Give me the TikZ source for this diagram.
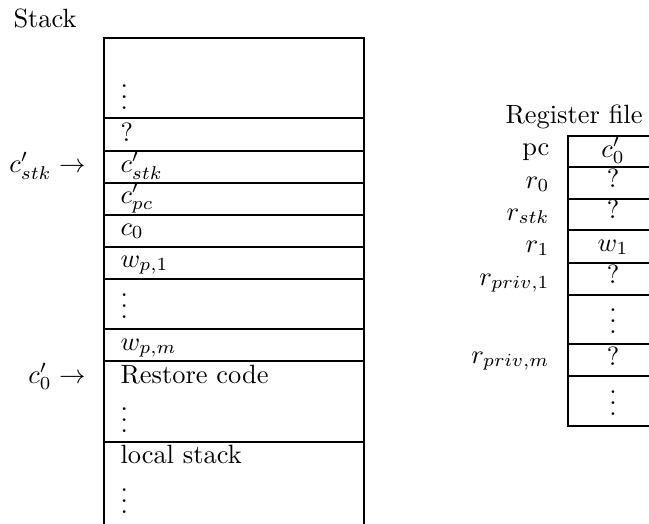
\documentclass[tikz,border=0pt]{standalone}
\begin{document}
\begin{tikzpicture}[x=0.3787pt,y=-0.3787pt,
  cell/.style={anchor=base west,inner sep=0pt},
  reg/.style={anchor=base,inner sep=0pt},
  lab/.style={anchor=base east,inner sep=0pt}]
\clip (0,0) rectangle (649,523);
% stack frame
\draw (104,38) rectangle (364,560);
\foreach \yy in {118,151,183,215,247,279,329,361,442}
  \draw (104,\yy) -- (364,\yy);
\node[cell] (title) at (13,27) {Stack};
\node[cell] (s1) at (120,109) {$\vdots$};
\node[cell] (s2) at (120,141) {?};
\node[cell] (s3) at (120,172) {$c'_{stk}$};
\node[cell] (s4) at (120,203) {$c'_{pc}$};
\node[cell] (s5) at (120,235) {$c_0$};
\node[cell] (s6) at (120,267) {$w_{p,1}$};
\node[cell] (s7) at (120,318) {$\vdots$};
\node[cell] (s8) at (120,350) {$w_{p,m}$};
\node[cell] (s9) at (120,383) {Restore code};
\node[cell] (s10) at (120,432) {$\vdots$};
\node[cell] (s11) at (120,463) {local stack};
\node[cell] (s12) at (120,513) {$\vdots$};
\node[lab] (pstk) at (86,172) {$c'_{stk} \rightarrow$};
\node[lab] (p0) at (86,383) {$c'_0 \rightarrow$};
% register file
\draw (568,136) rectangle (660,426);
\foreach \yy in {167,199,230,263,295,344,376}
  \draw (568,\yy) -- (660,\yy);
\node[cell] (rtitle) at (505,123) {Register file};
\node[reg] (v1) at (613,157) {$c'_0$};
\node[reg] (v2) at (613,187) {?};
\node[reg] (v3) at (613,218) {?};
\node[reg] (v4) at (613,251) {$w_1$};
\node[reg] (v5) at (613,283) {?};
\node[reg] (v6) at (613,333) {$\vdots$};
\node[reg] (v7) at (613,365) {?};
\node[reg] (v8) at (613,415) {$\vdots$};
\node[lab] (l1) at (550,155) {pc};
\node[lab] (l2) at (550,188) {$r_0$};
\node[lab] (l3) at (550,220) {$r_{stk}$};
\node[lab] (l4) at (550,252) {$r_1$};
\node[lab] (l5) at (550,285) {$r_{priv,1}$};
\node[lab] (l6) at (550,363) {$r_{priv,m}$};
\end{tikzpicture}
\end{document}
